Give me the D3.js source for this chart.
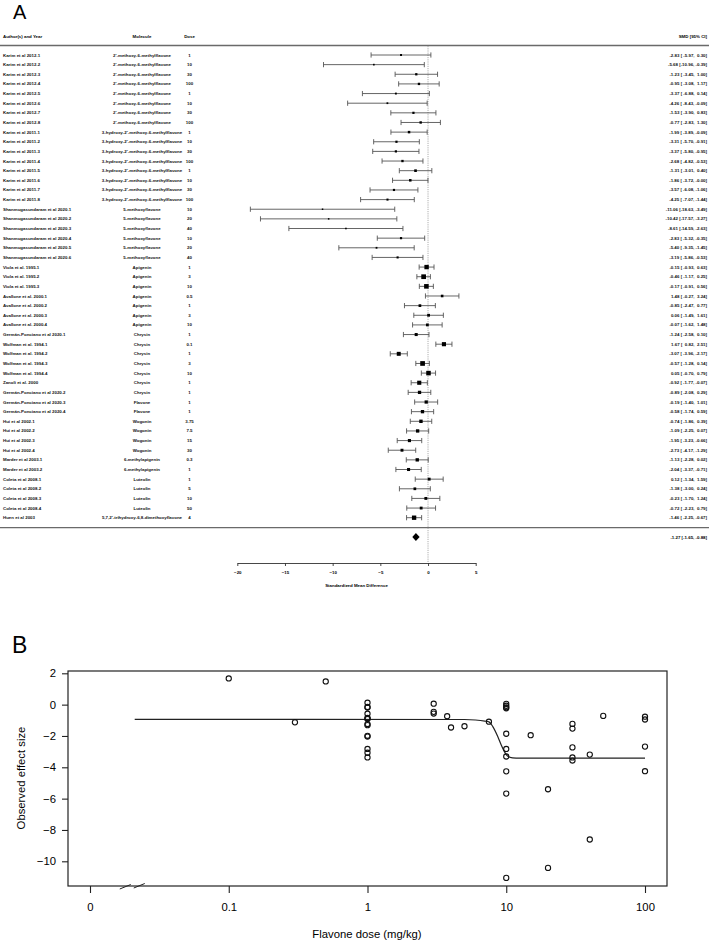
<!DOCTYPE html>
<html>
<head>
<meta charset="utf-8">
<script src="https://cdn.jsdelivr.net/npm/d3@7"></script>
<style>
  body { margin: 0; background: #fff; }
  svg { display: block; font-family: "Liberation Sans", Arial, sans-serif; }
</style>
</head>
<body>
<svg id="chart" width="709" height="941"></svg>
<script>
/* ===== data ===== */

const studies = [
  'Karim et al 2012.1', 'Karim et al 2012.2', 'Karim et al 2012.3', 'Karim et al 2012.4',
  'Karim et al 2012.5', 'Karim et al 2012.6', 'Karim et al 2012.7', 'Karim et al 2012.8',
  'Karim et al 2011.1', 'Karim et al 2011.2', 'Karim et al 2011.3', 'Karim et al 2011.4',
  'Karim et al 2011.5', 'Karim et al 2011.6', 'Karim et al 2011.7', 'Karim et al 2011.8',
  'Shanmugasundaram et al 2020.1', 'Shanmugasundaram et al 2020.2', 'Shanmugasundaram et al 2020.3',
  'Shanmugasundaram et al 2020.4', 'Shanmugasundaram et al 2020.5', 'Shanmugasundaram et al 2020.6',
  'Viola et al. 1995.1', 'Viola et al. 1995.2', 'Viola et al. 1995.3',
  'Avallone et al. 2000.1', 'Avallone et al. 2000.2', 'Avallone et al. 2000.3', 'Avallone et al. 2000.4',
  'Germán-Ponciano et al 2020.1',
  'Wolfman et al. 1994.1', 'Wolfman et al. 1994.2', 'Wolfman et al. 1994.3', 'Wolfman et al. 1994.4',
  'Zanoli et al. 2000',
  'Germán-Ponciano et al 2020.2', 'Germán-Ponciano et al 2020.3', 'Germán-Ponciano et al 2020.4',
  'Hui et al 2002.1', 'Hui et al 2002.2', 'Hui et al 2002.3', 'Hui et al 2002.4',
  'Marder et al 2003.1', 'Marder et al 2003.2',
  'Coleta et al 2008.1', 'Coleta et al 2008.2', 'Coleta et al 2008.3', 'Coleta et al 2008.4',
  'Huen et al 2003'
];

const M1 = "2'-methoxy-6-methylflavone";
const M2 = "3-hydroxy-2'-methoxy-6-methylflavone";
const M3 = '5-methoxyflavone';
const molecules = [
  M1, M1, M1, M1, M1, M1, M1, M1,
  M2, M2, M2, M2, M2, M2, M2, M2,
  M3, M3, M3, M3, M3, M3,
  'Apigenin', 'Apigenin', 'Apigenin',
  'Apigenin', 'Apigenin', 'Apigenin', 'Apigenin',
  'Chrysin',
  'Chrysin', 'Chrysin', 'Chrysin', 'Chrysin',
  'Chrysin',
  'Chrysin', 'Flavone', 'Flavone',
  'Wogonin', 'Wogonin', 'Wogonin', 'Wogonin',
  '6-methylapigenin', '6-methylapigenin',
  'Luteolin', 'Luteolin', 'Luteolin', 'Luteolin',
  "5,7,2'-trihydroxy-6,8-dimethoxyflavone"
];

const doses = [
  1, 10, 30, 100, 1, 10, 30, 100,
  1, 10, 30, 100, 1, 10, 30, 100,
  10, 20, 40, 10, 20, 40,
  1, 3, 10,
  0.5, 1, 3, 10,
  1,
  0.1, 1, 3, 10,
  1,
  1, 1, 1,
  3.75, 7.5, 15, 30,
  0.3, 1,
  1, 5, 10, 50,
  4
];

const smd = [
  -2.83, -5.68, -1.23, -0.95, -3.37, -4.26, -1.53, -0.77,
  -1.99, -3.31, -3.37, -2.68, -1.31, -1.86, -3.57, -4.25,
  -11.06, -10.42, -8.61, -2.83, -5.40, -3.19,
  -0.15, -0.46, -0.17,
  1.48, -0.85, 0.06, -0.07,
  -1.24,
  1.67, -3.07, -0.57, 0.05,
  -0.92,
  -0.89, -0.19, -0.58,
  -0.74, -1.09, -1.95, -2.73,
  -1.13, -2.04,
  0.12, -1.38, -0.23, -0.72,
  -1.46
];

const ciLow = [
  -5.97, -10.96, -3.45, -3.08, -6.88, -8.43, -3.90, -2.83,
  -3.89, -5.70, -5.80, -4.82, -3.01, -3.72, -6.08, -7.07,
  -18.63, -17.57, -14.59, -5.32, -9.35, -5.86,
  -0.93, -1.17, -0.91,
  -0.27, -2.47, -1.49, -1.62,
  -2.58,
  0.82, -3.96, -1.28, -0.70,
  -1.77,
  -2.08, -1.40, -1.74,
  -1.86, -2.25, -3.23, -4.17,
  -2.28, -3.37,
  -1.34, -3.00, -1.70, -2.23,
  -2.25
];

const ciHigh = [
  0.30, -0.39, 1.00, 1.17, 0.14, -0.09, 0.83, 1.30,
  -0.09, -0.91, -0.95, -0.53, 0.40, -0.004, -1.06, -1.44,
  -3.49, -3.27, -2.63, -0.35, -1.45, -0.53,
  0.63, 0.25, 0.56,
  3.24, 0.77, 1.61, 1.48,
  0.10,
  2.51, -2.17, 0.14, 0.79,
  -0.07,
  0.29, 1.01, 0.59,
  0.39, 0.07, -0.66, -1.29,
  0.02, -0.71,
  1.59, 0.24, 1.24, 0.79,
  -0.67
];

// pooled estimate, lower, upper
const pooled = [-1.27, -1.65, -0.88];

const smdTicks = [-20, -15, -10, -5, 0, 5];

const effectTicks = [2, 0, -2, -4, -6, -8, -10];
const doseTicks = [0.01, 0.1, 1, 10, 100];
const doseTickLabels = ['0', '0.1', '1', '10', '100'];

// fitted dose-response curve, read point by point
const curveDose   = [0.021, 5, 6, 7, 7.5, 8, 8.7, 9.2, 9.7, 10.2, 11.1, 12.5, 100];
const curveEffect = [-0.94, -0.95, -0.98, -1.05, -1.1, -1.4, -2.05, -2.58, -3.0, -3.28, -3.4, -3.42, -3.42];

/* ===== SECTION A: forest plot ===== */

const svg = d3.select('#chart');
const FS = 4.4;

svg.append('text').attr('x', 13).attr('y', 19).text('A')
  .style('font-size', '20px');

const fx = d3.scaleLinear().domain([-20, 5]).range([237.3, 475.7]);
const fy = d3.scalePoint().domain(d3.range(studies.length)).range([55, 517.7]);

const fmt = v => v.toFixed(2);
const ciText = i => {
  const e = fmt(smd[i]).padStart(6, ' ');
  const l = fmt(ciLow[i]).padStart(6, ' ');
  const h = fmt(ciHigh[i]).padStart(5, ' ');
  return `${e} [${l}, ${h}]`;
};

// header
const head = svg.append('g').style('font-size', FS + 'px').style('font-weight', 'bold');
head.append('text').attr('x', 3).attr('y', 37.5).text('Author(s) and Year');
head.append('text').attr('x', 142).attr('y', 37.5).attr('text-anchor', 'middle').text('Molecule');
head.append('text').attr('x', 189.5).attr('y', 37.5).attr('text-anchor', 'middle').text('Dose');
head.append('text').attr('x', 707).attr('y', 37.5).attr('text-anchor', 'end').text('SMD [95% CI]');

svg.append('line').attr('x1', 0).attr('x2', 709).attr('y1', 45.5).attr('y2', 45.5)
  .attr('stroke', '#6a6a6a').attr('stroke-width', 1.3);
svg.append('line').attr('x1', 0).attr('x2', 709).attr('y1', 527.7).attr('y2', 527.7)
  .attr('stroke', '#6a6a6a').attr('stroke-width', 1.3);

// reference line at 0
svg.append('line')
  .attr('x1', fx(0)).attr('x2', fx(0)).attr('y1', 46).attr('y2', 563)
  .attr('stroke', '#9a9a9a').attr('stroke-width', 0.8).attr('stroke-dasharray', '1.2,1');

// square sizes from inverse CI width
const wi = smd.map((d, i) => 1 / (ciHigh[i] - ciLow[i]));
const wMin = d3.min(wi), wMax = d3.max(wi);
const psize = wi.map(w => 1.5 + (w - wMin) / (wMax - wMin) * 3.2);

const rows = svg.append('g').style('font-size', FS + 'px').style('font-weight', 'bold')
  .attr('fill', '#111');
studies.forEach((name, i) => {
  const y = fy(i);
  rows.append('text').attr('x', 3).attr('y', y).attr('dy', '0.35em').text(name);
  rows.append('text').attr('x', 142).attr('y', y).attr('dy', '0.35em')
    .attr('text-anchor', 'middle').text(molecules[i]);
  rows.append('text').attr('x', 189.5).attr('y', y).attr('dy', '0.35em')
    .attr('text-anchor', 'middle').text(doses[i]);
  rows.append('text').attr('x', 707).attr('y', y).attr('dy', '0.35em')
    .attr('text-anchor', 'end').attr('xml:space', 'preserve').style('white-space', 'pre')
    .text(ciText(i));

  // CI bar with end caps
  rows.append('line').attr('x1', fx(ciLow[i])).attr('x2', fx(ciHigh[i]))
    .attr('y1', y).attr('y2', y).attr('stroke', '#555').attr('stroke-width', 0.9);
  [ciLow[i], ciHigh[i]].forEach(v => {
    rows.append('line').attr('x1', fx(v)).attr('x2', fx(v))
      .attr('y1', y - 2.6).attr('y2', y + 2.6).attr('stroke', '#555').attr('stroke-width', 0.9);
  });
  const s = psize[i];
  rows.append('rect').attr('x', fx(smd[i]) - s / 2).attr('y', y - s / 2)
    .attr('width', s).attr('height', s).attr('fill', '#000');
});

// pooled diamond
const dy0 = 537;
svg.append('polygon')
  .attr('points', [
    [fx(pooled[1]), dy0], [fx(pooled[0]), dy0 - 4], [fx(pooled[2]), dy0], [fx(pooled[0]), dy0 + 4]
  ].map(p => p.join(',')).join(' '))
  .attr('fill', '#000');
svg.append('text').attr('x', 707).attr('y', dy0).attr('dy', '0.35em')
  .attr('text-anchor', 'end').attr('xml:space', 'preserve').style('white-space', 'pre')
  .style('font-size', FS + 'px').style('font-weight', 'bold')
  .text(`${fmt(pooled[0])} [${fmt(pooled[1])}, ${fmt(pooled[2])}]`);

// SMD axis
const fAxis = svg.append('g').attr('transform', 'translate(0,563)')
  .call(d3.axisBottom(fx).tickValues(smdTicks).tickSize(3).tickSizeOuter(0).tickPadding(5)
    .tickFormat(d3.format('d')));
fAxis.selectAll('text').style('font-size', FS + 'px').style('font-weight', 'bold').attr('fill', '#000');
fAxis.selectAll('line,path').attr('stroke', '#333').attr('stroke-width', 0.9);

svg.append('text').attr('x', fx(-7.5)).attr('y', 587).attr('text-anchor', 'middle')
  .style('font-size', FS + 'px').style('font-weight', 'bold').text('Standardized Mean Difference');

/* ===== SECTION B: dose-response meta-regression ===== */

svg.append('text').attr('x', 12).attr('y', 653).text('B')
  .style('font-size', '23px');

const bx = d3.scaleLog().domain([0.01, 100]).range([90, 645]);
const by = d3.scaleLinear().domain([2, -10]).range([673.3, 861.3]);

svg.append('rect').attr('x', 68).attr('y', 671).attr('width', 599).attr('height', 215)
  .attr('fill', 'none').attr('stroke', '#222').attr('stroke-width', 1.2);

const yAxis = svg.append('g').attr('transform', 'translate(68,0)')
  .call(d3.axisLeft(by).tickValues(effectTicks).tickSize(6).tickPadding(6));
yAxis.select('.domain').remove();
yAxis.selectAll('line').attr('stroke', '#222').attr('stroke-width', 1.1);
yAxis.selectAll('text').style('font-size', '11.3px').attr('fill', '#000');

const xAxis = svg.append('g').attr('transform', 'translate(0,886)')
  .call(d3.axisBottom(bx).tickValues(doseTicks).tickSize(7).tickPadding(10)
    .tickFormat((d, i) => doseTickLabels[i]));
xAxis.select('.domain').remove();
xAxis.selectAll('line').attr('stroke', '#222').attr('stroke-width', 1.1);
xAxis.selectAll('text').style('font-size', '11.3px').attr('fill', '#000');

// axis break marks near zero
const bk = bx(0.02);
svg.append('line').attr('x1', bk - 12).attr('y1', 889).attr('x2', bk - 1).attr('y2', 884.5)
  .attr('stroke', '#222').attr('stroke-width', 1);
svg.append('line').attr('x1', bk + 2).attr('y1', 888).attr('x2', bk + 13).attr('y2', 883.5)
  .attr('stroke', '#222').attr('stroke-width', 1);

svg.append('text').attr('transform', 'translate(25,778) rotate(-90)')
  .attr('text-anchor', 'middle').style('font-size', '11.3px').text('Observed effect size');
svg.append('text').attr('x', 367).attr('y', 938).attr('text-anchor', 'middle')
  .style('font-size', '11.3px').text('Flavone dose (mg/kg)');

// fitted curve
const curvePts = curveDose.map((d, i) => [bx(d), by(curveEffect[i])]);
svg.append('path').attr('d', d3.line().curve(d3.curveMonotoneX)(curvePts))
  .attr('fill', 'none').attr('stroke', '#222').attr('stroke-width', 1.2);

// observed effects
svg.append('g').selectAll('circle').data(smd).join('circle')
  .attr('cx', (d, i) => bx(doses[i]))
  .attr('cy', d => by(d))
  .attr('r', 2.6)
  .attr('fill', 'none').attr('stroke', '#111').attr('stroke-width', 1.1);
</script>
</body>
</html>
